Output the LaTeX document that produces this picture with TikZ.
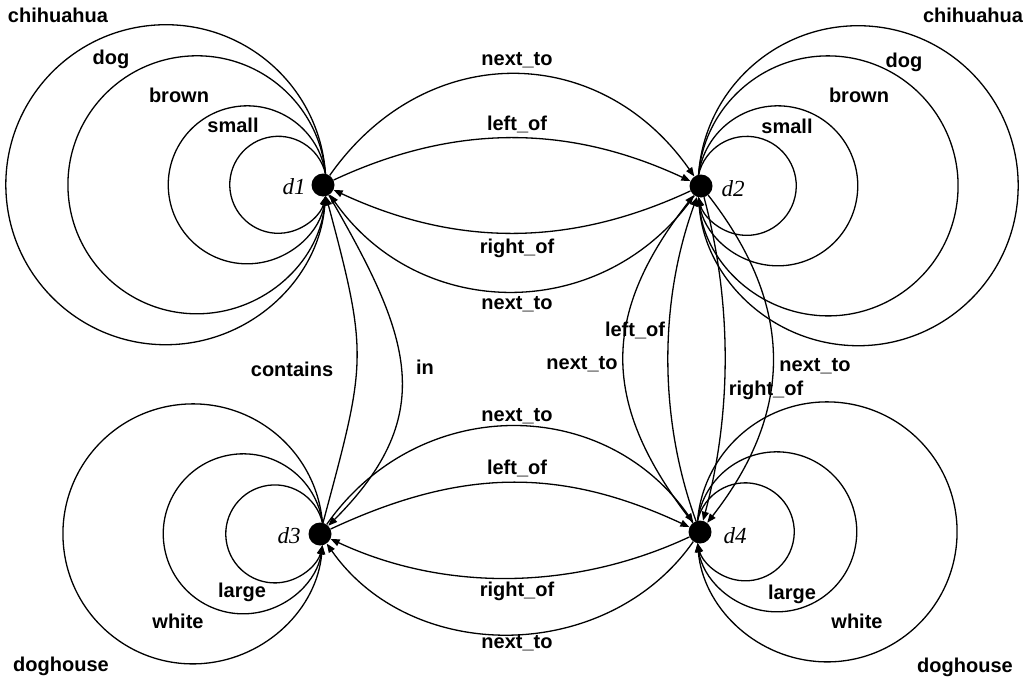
\documentclass[tikz,border=0pt]{standalone}
\usepackage{fontspec}
\setmainfont{Liberation Sans}
\newfontfamily\labserif{Liberation Serif}
\usetikzlibrary{arrows.meta}
\begin{document}
\begin{tikzpicture}[x=1pt,y=1pt,
  dot/.style={circle,fill=black,inner sep=0pt,minimum size=23pt},
  edge/.style={line width=1.3pt,-{Triangle[length=9pt,width=7pt]}},
  lab/.style={font=\fontsize{20}{24}\selectfont\bfseries,inner sep=0pt},
  blab/.style={lab,anchor=base},
  nlab/.style={font=\fontsize{23}{27}\selectfont\labserif\itshape,inner sep=0pt}]
\useasboundingbox (0,0) rectangle (1036,-680);

% nodes
\node[dot] (d1) at (323,-185) {};
\node[dot] (d2) at (701,-186) {};
\node[dot] (d3) at (320,-534) {};
\node[dot] (d4) at (700,-532) {};
\node[nlab] (t1) at (294,-187) {d1};
\node[nlab] (t2) at (733,-189) {d2};
\node[nlab] (t3) at (289,-536) {d3};
\node[nlab] (t4) at (735,-536) {d4};

% self loops d1 (left)
\draw[edge] (d1.78) arc[start angle=13.4, end angle=346.6, radius=48.5];
\draw[edge] (d1.78) arc[start angle=8.2, end angle=351.8, radius=79];
\draw[edge] (d1.78) arc[start angle=5.0, end angle=355.0, radius=129];
\draw[edge] (d1.78) arc[start angle=4.0, end angle=356.0, radius=160];
\node[blab] (l1a) at (233,-132) {small};
\node[blab] (l1b) at (179,-102) {brown};
\node[blab] (l1c) at (111,-64) {dog};
\node[blab] (l1d) at (58,-23) {chihuahua};

% self loops d2 (right)
\draw[edge] (d2.102) arc[start angle=166.8, end angle=-166.8, radius=49.5];
\draw[edge] (d2.102) arc[start angle=171.9, end angle=-171.9, radius=80];
\draw[edge] (d2.102) arc[start angle=175.0, end angle=-175.0, radius=130];
\draw[edge] (d2.102) arc[start angle=176.0, end angle=-176.0, radius=160];
\node[blab] (l2a) at (787,-133) {small};
\node[blab] (l2b) at (859,-102) {brown};
\node[blab] (l2c) at (904,-67) {dog};
\node[blab] (l2d) at (973,-22) {chihuahua};

% self loops d3 (left)
\draw[edge] (d3.78) arc[start angle=13.4, end angle=346.6, radius=49];
\draw[edge] (d3.78) arc[start angle=8.1, end angle=351.9, radius=80];
\draw[edge] (d3.78) arc[start angle=5.0, end angle=355.0, radius=130];
\node[blab] (l3a) at (242,-597) {large};
\node[blab] (l3b) at (178,-628) {white};
\node[blab] (l3c) at (61,-671) {doghouse};

% self loops d4 (right)
\draw[edge] (d4.102) arc[start angle=166.7, end angle=-166.7, radius=49];
\draw[edge] (d4.102) arc[start angle=171.9, end angle=-171.9, radius=80];
\draw[edge] (d4.102) arc[start angle=175.0, end angle=-175.0, radius=130];
\node[blab] (l4a) at (792,-599) {large};
\node[blab] (l4b) at (857,-628) {white};
\node[blab] (l4c) at (965,-672) {doghouse};

% d1 <-> d2
\draw[edge] (d1) to[out=55,in=125,looseness=1.16] (d2);
\draw[edge] (d1) to[out=25,in=155,looseness=0.96] (d2);
\draw[edge] (d2) to[out=205,in=-25,looseness=0.96] (d1);
\draw[edge] (d2) to[out=235,in=-55,looseness=1.10] (d1);
\node[lab] (e1) at (517,-60) {next\_to};
\node[lab] (e2) at (517,-124) {left\_of};
\node[lab] (e3) at (517,-248) {right\_of};
\node[lab] (e4) at (517,-304) {next\_to};

% d3 <-> d4
\draw[edge] (d3) to[out=55,in=125,looseness=1.10] (d4);
\draw[edge] (d3) to[out=25,in=155,looseness=1.02] (d4);
\draw[edge] (d4) to[out=205,in=-25,looseness=0.90] (d3);
\draw[edge] (d4) to[out=235,in=-55,looseness=1.04] (d3);
\node[lab] (e5) at (517,-416) {next\_to};
\node[lab] (e6) at (517,-468) {left\_of};
\node[lab] (e7) at (517,-591) {right\_of};
\node[lab] (e8) at (517,-643) {next\_to};

% d1 <-> d3
\draw[edge] (d3) to[out=75,in=-75,looseness=1.3] (d1);
\draw[edge] (d1) to[out=-60,in=45,looseness=1.24] (d3);
\node[lab] (e9) at (292,-369) {contains};
\node[lab] (e10) at (425,-367) {in};

% d2 <-> d4
\draw[edge] (d4) to[out=128,in=232,looseness=1.18] (d2);
\draw[edge] (d4) to[out=110,in=250,looseness=0.87] (d2);
\draw[edge] (d2) to[out=-75,in=75,looseness=0.87] (d4);
\draw[edge] (d2) to[out=-52,in=52,looseness=1.10] (d4);
\node[lab] (e11) at (582,-364) {next\_to};
\node[lab] (e12) at (635,-330) {left\_of};
\node[lab] (e13) at (766,-390) {right\_of};
\node[lab] (e14) at (815,-366) {next\_to};
\end{tikzpicture}
\end{document}
